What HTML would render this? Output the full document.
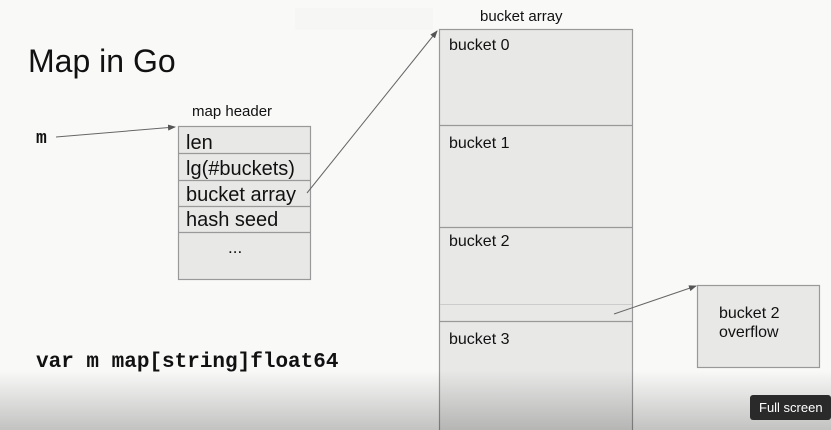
<!DOCTYPE html>
<html><head><style>
html,body{margin:0;padding:0;width:831px;height:430px;overflow:hidden;background:#f9f9f8;}
svg{position:absolute;left:0;top:0;}
.t{font-family:"Liberation Sans",sans-serif;fill:#111;}
.m{font-family:"Liberation Mono",monospace;font-weight:bold;fill:#111;}
</style></head><body>
<svg width="831" height="430" viewBox="0 0 831 430">
<defs>
<linearGradient id="g" x1="0" y1="0" x2="0" y2="1">
<stop offset="0" stop-color="#000" stop-opacity="0"/>
<stop offset="1" stop-color="#000" stop-opacity="0.22"/>
</linearGradient>
<marker id="a" markerWidth="8" markerHeight="6" refX="7" refY="3" orient="auto" markerUnits="userSpaceOnUse">
<path d="M0,0 L8,3 L0,6 z" fill="#555"/></marker>
</defs>
<rect x="295" y="8" width="138" height="22" fill="#f6f6f5"/>
<text x="28" y="72" class="t" font-size="32">Map in Go</text>
<text x="192" y="116" class="t" font-size="15">map header</text>
<text x="36" y="143" class="m" font-size="18">m</text>
<line x1="56" y1="137" x2="175" y2="127" stroke="#666" stroke-width="1" marker-end="url(#a)"/>
<g fill="#e8e8e7" stroke="#999" stroke-width="1.2">
<rect x="178.5" y="126.5" width="132" height="153"/>
<line x1="178" y1="153.5" x2="311" y2="153.5"/>
<line x1="178" y1="180.5" x2="311" y2="180.5"/>
<line x1="178" y1="206.5" x2="311" y2="206.5"/>
<line x1="178" y1="232.5" x2="311" y2="232.5"/>
</g>
<text x="186" y="149" class="t" font-size="20">len</text>
<text x="186" y="175" class="t" font-size="20">lg(#buckets)</text>
<text x="186" y="201" class="t" font-size="20">bucket array</text>
<text x="186" y="226" class="t" font-size="20">hash seed</text>
<text x="228" y="253" class="t" font-size="17">...</text>
<line x1="307" y1="193" x2="437" y2="31" stroke="#666" stroke-width="1" marker-end="url(#a)"/>
<text x="480" y="21" class="t" font-size="15">bucket array</text>
<g fill="#e8e8e7" stroke="#999" stroke-width="1.2">
<rect x="439.5" y="29.5" width="193" height="410"/>
<line x1="439" y1="125.5" x2="633" y2="125.5"/>
<line x1="439" y1="227.5" x2="633" y2="227.5"/>
<line x1="439" y1="321.5" x2="633" y2="321.5"/>
</g>
<line x1="440" y1="304.5" x2="632" y2="304.5" stroke="#ccc" stroke-width="1"/>
<text x="449" y="50" class="t" font-size="16">bucket 0</text>
<text x="449" y="148" class="t" font-size="16">bucket 1</text>
<text x="449" y="246" class="t" font-size="16">bucket 2</text>
<text x="449" y="344" class="t" font-size="16">bucket 3</text>
<rect x="697.5" y="285.5" width="122" height="82" fill="#e8e8e7" stroke="#999" stroke-width="1.2"/>
<text x="719" y="318" class="t" font-size="16">bucket 2</text>
<text x="719" y="337" class="t" font-size="16">overflow</text>
<line x1="614" y1="314" x2="696" y2="286" stroke="#666" stroke-width="1" marker-end="url(#a)"/>
<text x="36" y="367" class="m" font-size="21">var m map[string]float64</text>
<rect x="0" y="370" width="831" height="60" fill="url(#g)"/>
<rect x="750" y="395" width="81" height="25" rx="3" fill="#2a2a2a"/>
<text x="759" y="412" font-family="Liberation Sans,sans-serif" font-size="13" fill="#fff">Full screen</text>
</svg>
</body></html>
